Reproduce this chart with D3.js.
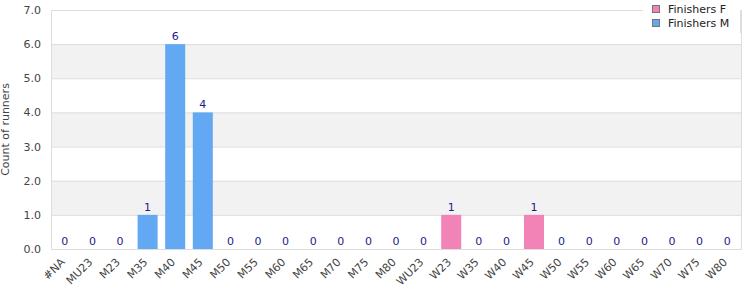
<!DOCTYPE html>
<meta charset="utf-8">
<style>
body { margin: 0; padding: 0; background: #fff; }
svg text { font-family: "DejaVu Sans", sans-serif; }
</style>
<script src="https://d3js.org/d3.v7.min.js"></script>
<div id="chart"></div>
<script>
// categories and values
const categories = ["#NA","MU23","M23","M35","M40","M45","M50","M55","M60","M65","M70","M75","M80",
  "WU23","W23","W35","W40","W45","W50","W55","W60","W65","W70","W75","W80"];
const finishersF = [0,0,0,0,0,0,0,0,0,0,0,0,0,0,1,0,0,1,0,0,0,0,0,0,0];
const finishersM = [0,0,0,1,6,4,0,0,0,0,0,0,0,0,0,0,0,0,0,0,0,0,0,0,0];
const yTicks = [0,1,2,3,4,5,6,7];

const margin = {top: 10, right: 9, bottom: 51, left: 51},
    width = 750 - margin.left - margin.right,
    height = 300 - margin.top - margin.bottom;

const svg = d3.select("#chart").append("svg")
    .attr("width", 750).attr("height", 300)
  .append("g")
    .attr("transform", `translate(${margin.left},${margin.top})`);

const x = d3.scaleBand().domain(categories).range([0, width])
  .paddingInner(0.275).paddingOuter(0.1375);
const y = d3.scaleLinear().domain([0, 7]).range([height, 0]);

// alternating bands
svg.selectAll(".band")
  .data(yTicks.slice(0, -1).filter(d => d % 2 === 1))
  .enter().append("rect")
    .attr("x", 0).attr("width", width)
    .attr("y", d => y(d + 1)).attr("height", d => y(d) - y(d + 1))
    .attr("fill", "#f2f2f2");

// grid lines
svg.selectAll(".grid")
  .data(yTicks)
  .enter().append("line")
    .attr("x1", 0).attr("x2", width)
    .attr("y1", d => y(d) + 0.5).attr("y2", d => y(d) + 0.5)
    .attr("stroke", "#dddddd");

// frame
svg.append("line").attr("x1", 0.5).attr("x2", 0.5).attr("y1", 0).attr("y2", height + 1)
  .attr("stroke", "#dddddd");
svg.append("line").attr("x1", width + 0.5).attr("x2", width + 0.5).attr("y1", 0).attr("y2", height + 1)
  .attr("stroke", "#dddddd");

// y axis
const yAxis = svg.append("g")
  .call(d3.axisLeft(y).tickValues(yTicks).tickFormat(d3.format(".1f")).tickSize(0).tickPadding(10));
yAxis.select(".domain").remove();
yAxis.selectAll("text").attr("fill", "#444").style("font-size", "11px");

svg.append("text")
  .attr("transform", "rotate(-90)")
  .attr("x", -height / 2).attr("y", -42)
  .attr("text-anchor", "middle")
  .attr("fill", "#444").style("font-size", "11px")
  .text("Count of runners");

// x axis
const xAxis = svg.append("g")
  .attr("transform", `translate(0,${height})`)
  .call(d3.axisBottom(x).tickSize(0));
xAxis.select(".domain").remove();
xAxis.selectAll("text")
  .attr("fill", "#444").style("font-size", "11px")
  .attr("text-anchor", "end")
  .attr("x", 0).attr("y", 0).attr("dx", 0).attr("dy", "0.35em")
  .attr("transform", "translate(-2,11) rotate(-45)");

// stacked bars
const rows = categories.map((c, i) => ({cat: c, F: finishersF[i], M: finishersM[i]}));
const stack = d3.stack().keys(["M", "F"])(rows);
const colors = {F: "#f283b6", M: "#62a8f3"};

svg.selectAll(".series")
  .data(stack)
  .enter().append("g")
    .attr("fill", d => colors[d.key])
  .selectAll("rect")
  .data(d => d)
  .enter().append("rect")
    .attr("x", d => x(d.data.cat))
    .attr("width", x.bandwidth())
    .attr("y", d => y(d[1]))
    .attr("height", d => y(d[0]) - y(d[1]));

// value labels
svg.selectAll(".val")
  .data(rows)
  .enter().append("text")
    .attr("x", d => x(d.cat) + x.bandwidth() / 2)
    .attr("y", d => y(d.F + d.M) - 4)
    .attr("text-anchor", "middle")
    .attr("fill", "#1c1c8c").style("font-size", "11px")
    .text(d => d.F + d.M);

// legend
const legend = svg.append("g").attr("transform", `translate(${width - 98},-10)`);
legend.append("rect").attr("x", 0).attr("y", 0).attr("width", 98).attr("height", 33)
  .attr("fill", "#fff");
legend.append("line").attr("x1", 97.5).attr("x2", 97.5).attr("y1", 10).attr("y2", 33)
  .attr("stroke", "#dddddd");
const legendItems = [{name: "Finishers F", key: "F"}, {name: "Finishers M", key: "M"}];
legendItems.forEach((d, i) => {
  legend.append("rect")
    .attr("x", 9.5).attr("y", 5.5 + i * 14).attr("width", 7).attr("height", 7)
    .attr("fill", colors[d.key]).attr("stroke", "#777");
  legend.append("text")
    .attr("x", 25).attr("y", 13 + i * 14)
    .attr("fill", "#222").style("font-size", "11px")
    .text(d.name);
});
</script>
